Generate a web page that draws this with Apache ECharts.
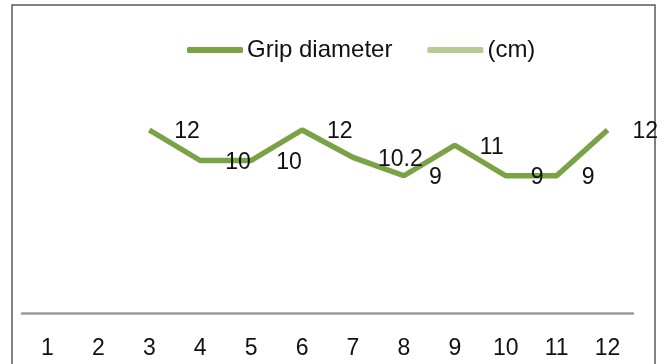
<!DOCTYPE html>
<html>
<head>
<meta charset="utf-8">
<script src="https://cdn.jsdelivr.net/npm/echarts@6/dist/echarts.min.js"></script>
<style>html,body{margin:0;padding:0;background:#fff;}#c{width:666px;height:364px;}</style>
</head>
<body>
<div id="c"></div>
<script>
const categories = ['1','2','3','4','5','6','7','8','9','10','11','12'];
const gripDiameter = [null, null, 12, 10, 10, 12, 10.2, 9, 11, 9, 9, 12];
const unitSeries = [];
const seriesNames = ['Grip diameter', '(cm)'];

const chart = echarts.init(document.getElementById('c'), null, {renderer: 'canvas'});
const FONT = 'Liberation Sans';
chart.setOption({
  animation: false,
  backgroundColor: '#ffffff',
  graphic: [{
    type: 'rect', silent: true,
    shape: {x: 12, y: 5, width: 643, height: 380},
    style: {fill: 'none', stroke: '#5a5a5a', lineWidth: 1.5}
  }],
  legend: {
    left: 182, top: 33,
    itemWidth: 56, itemHeight: 6, itemGap: 35,
    icon: 'roundRect',
    textStyle: {fontFamily: FONT, fontSize: 24, color: '#111', padding: [0,0,0,-1]},
    data: seriesNames
  },
  grid: {left: 22, right: 33, top: 8, bottom: 51, containLabel: false},
  xAxis: {
    type: 'category', data: categories, boundaryGap: true,
    axisLine: {lineStyle: {color: '#9a9a9a', width: 2.5}},
    axisTick: {show: false},
    axisLabel: {fontFamily: FONT, fontSize: 23, color: '#111', margin: 24}
  },
  yAxis: {type: 'value', min: 0, max: 20, show: false, splitLine: {show: false}},
  series: [{
    name: seriesNames[0], type: 'line', data: gripDiameter,
    color: '#7aa346',
    lineStyle: {width: 5.5, color: '#7aa346'},
    symbol: 'circle', symbolSize: 0.01, showSymbol: true,
    connectNulls: false,
    label: {show: true, position: 'right', distance: 25, offset: [0, 2],
      fontFamily: FONT, fontSize: 23, color: '#111'}
  }, {
    name: seriesNames[1], type: 'line', data: unitSeries,
    color: '#b3cc92',
    lineStyle: {width: 5, color: '#b3cc92'}
  }]
});
</script>
</body>
</html>
